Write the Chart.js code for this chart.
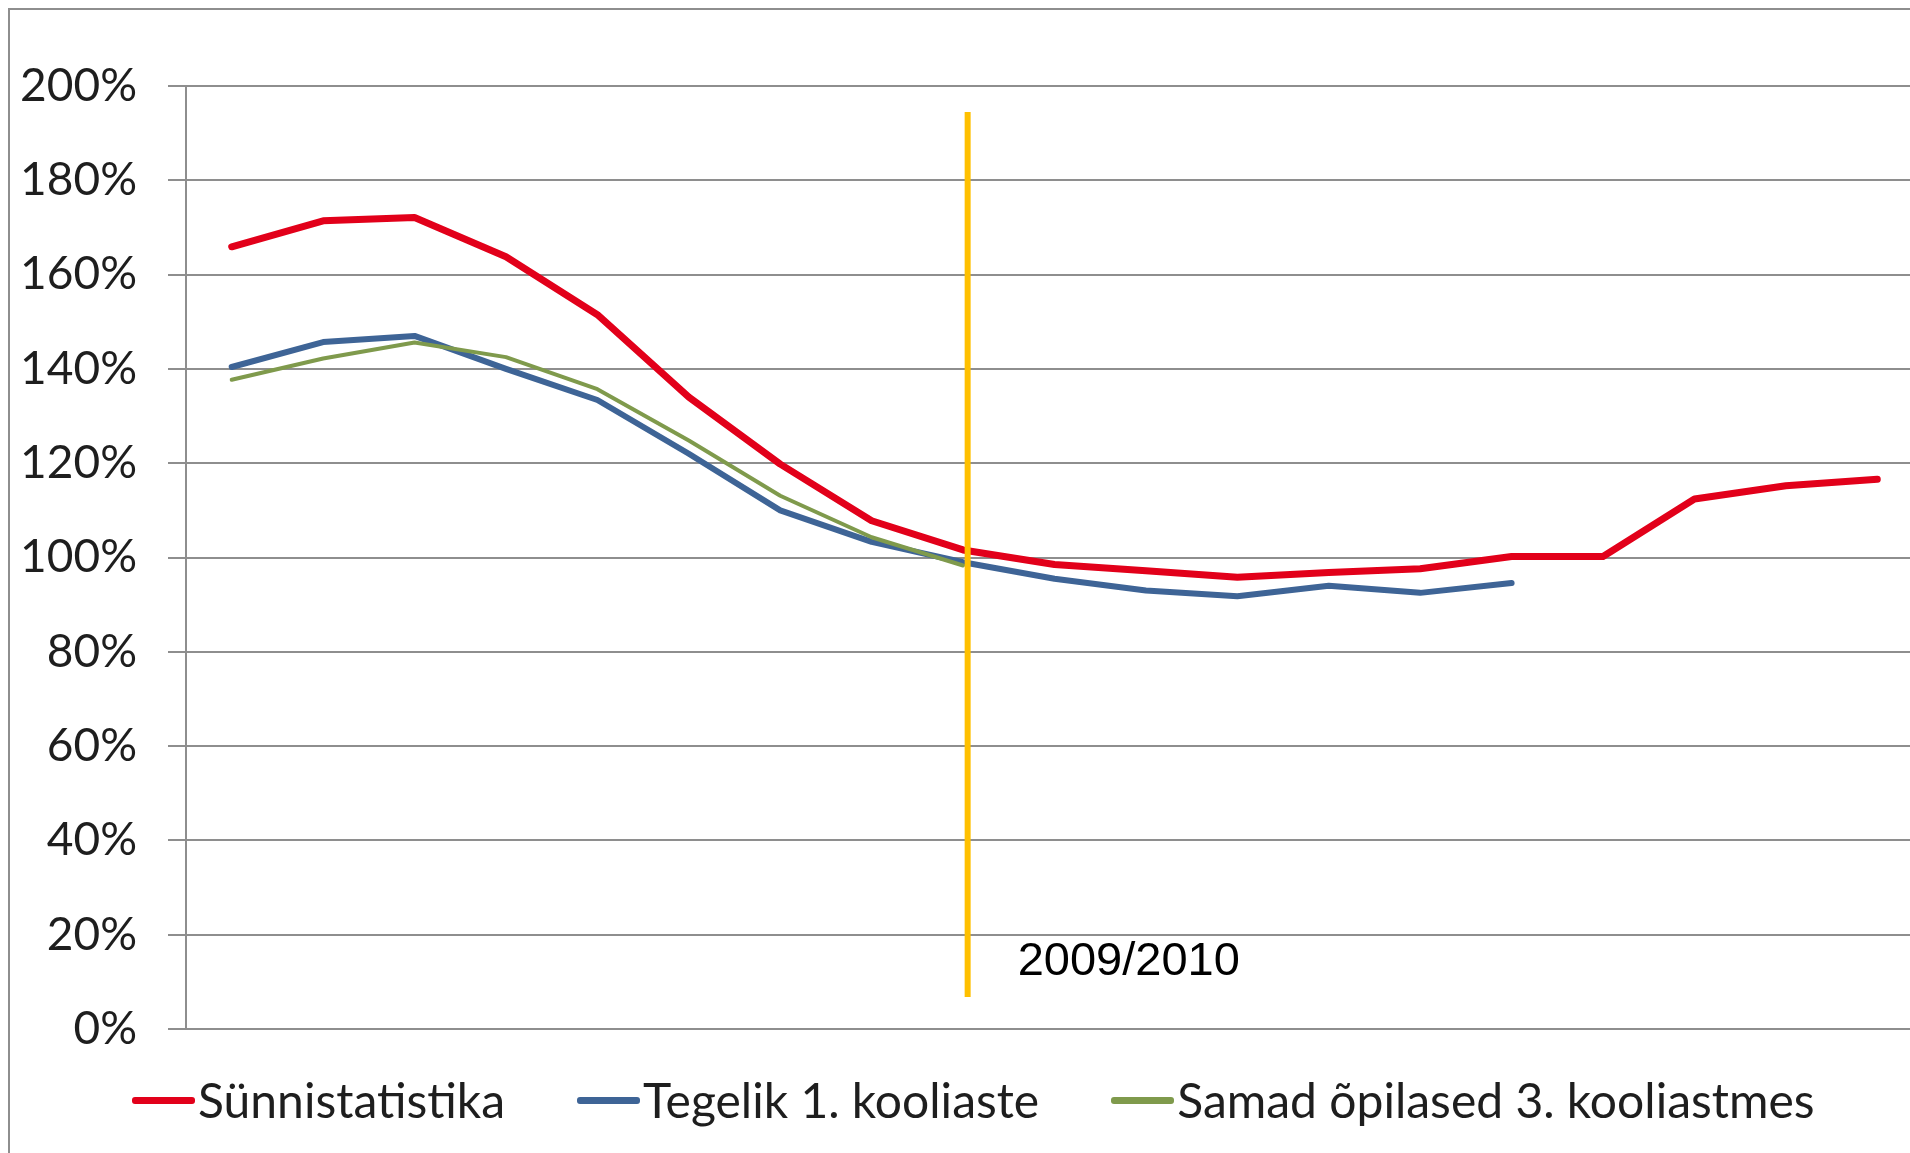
<!DOCTYPE html>
<html lang="et">
<head>
<meta charset="UTF-8">
<title>Sünnistatistika ja kooliastmed</title>
<script src="https://cdnjs.cloudflare.com/ajax/libs/Chart.js/4.4.1/chart.umd.min.js"></script>
<style>
  html, body { margin: 0; padding: 0; background: #fff; overflow: hidden; }
  /* chart frame; right and bottom edge fall outside the picture */
  #frame { position: absolute; left: 8px; top: 8px; width: 2000px; height: 1300px; border: 2px solid #8e8e8e; }
  #wrap { position: absolute; left: 0; top: 0; }
  #legend {
    position: absolute; left: 132px; top: 1076px; height: 48px;
    display: flex; align-items: center; gap: 72px;
    font-family: Lato, sans-serif; font-size: 48px; line-height: 48px; color: #1e1e1e;
    white-space: nowrap;
  }
  #legend .item { display: flex; align-items: center; }
  #legend .swatch { display: inline-block; width: 63px; height: 7px; border-radius: 3px; margin-right: 3px; }
</style>
</head>
<body>
<div id="frame"></div>
<div id="wrap"><canvas id="myChart" width="1923" height="1153"></canvas></div>
<div id="legend"></div>
<script>
// school years on the x axis (labels not shown in the picture)
const years = ['2001/2002', '2002/2003', '2003/2004', '2004/2005', '2005/2006', '2006/2007',
  '2007/2008', '2008/2009', '2009/2010', '2010/2011', '2011/2012', '2012/2013', '2013/2014',
  '2014/2015', '2015/2016', '2016/2017', '2017/2018', '2018/2019', '2019/2020'];

// values in %
const birthStats = [165.9, 171.4, 172.1, 163.8, 151.5, 134.0, 119.8, 107.8, 101.6, 98.5,
  97.2, 95.8, 96.8, 97.6, 100.2, 100.2, 112.4, 115.2, 116.6];
const firstStage = [140.4, 145.7, 147.0, 140.0, 133.4, 122.0, 110.0, 103.3, 99.0, 95.5,
  93.0, 91.8, 94.0, 92.5, 94.6, null, null, null, null];
const thirdStage = [137.7, 142.2, 145.6, 142.5, 135.7, 124.8, 113.1, 104.3, 98.3, null,
  null, null, null, null, null, null, null, null, null];

const seriesNames = ['Sünnistatistika', 'Tegelik 1. kooliaste', 'Samad õpilased 3. kooliastmes'];

const yTicks = [0, 20, 40, 60, 80, 100, 120, 140, 160, 180, 200];

// marker for the current school year
const markerYear = '2009/2010';
const markerRange = [6.8, 194.5];
const markerLabelAt = 11.5;

const markerPlugin = {
  id: 'yearMarker',
  afterDatasetsDraw(chart, args, opts) {
    const {ctx, scales: {x, y}} = chart;
    const px = x.getPixelForValue(years.indexOf(markerYear) + opts.shift);
    ctx.save();
    ctx.strokeStyle = opts.color;
    ctx.lineWidth = opts.width;
    ctx.beginPath();
    ctx.moveTo(px, y.getPixelForValue(markerRange[1]));
    ctx.lineTo(px, y.getPixelForValue(markerRange[0]));
    ctx.stroke();
    ctx.font = opts.font;
    ctx.fillStyle = opts.textColor;
    ctx.textAlign = 'left';
    ctx.textBaseline = 'alphabetic';
    ctx.fillText(markerYear, px + opts.textGap, y.getPixelForValue(markerLabelAt));
    ctx.restore();
  }
};

const gridColor = '#8e8e8e';

const ctx = document.getElementById('myChart').getContext('2d');
const myChart = new Chart(ctx, {
  type: 'line',
  data: {
    labels: years,
    datasets: [
      {label: seriesNames[0], data: birthStats, borderColor: '#e2001a', backgroundColor: '#e2001a',
        borderWidth: 7, order: 3},
      {label: seriesNames[1], data: firstStage, borderColor: '#3e6496', backgroundColor: '#3e6496',
        borderWidth: 6, order: 2},
      {label: seriesNames[2], data: thirdStage, borderColor: '#7f9a4c', backgroundColor: '#7f9a4c',
        borderWidth: 4, order: 1}
    ]
  },
  plugins: [markerPlugin],
  options: {
    responsive: false,
    animation: false,
    layout: {padding: {top: 86, left: 0, right: 0, bottom: 124}},
    elements: {
      point: {radius: 0, hoverRadius: 0},
      line: {tension: 0, fill: false, borderJoinStyle: 'round', borderCapStyle: 'round'}
    },
    scales: {
      x: {
        type: 'category',
        display: false,
        offset: true
      },
      y: {
        min: 0,
        max: 200,
        afterBuildTicks: (scale) => { scale.ticks = yTicks.map(v => ({value: v})); },
        afterFit: (scale) => { scale.width = 186; },
        border: {display: true, color: gridColor, width: 2},
        grid: {color: gridColor, lineWidth: 2, drawTicks: true, tickLength: 18, tickColor: gridColor},
        ticks: {
          padding: 31,
          color: '#1e1e1e',
          font: {family: 'Lato', size: 46},
          callback: (v) => v + '%'
        }
      }
    },
    plugins: {
      legend: {display: false},
      tooltip: {enabled: false},
      yearMarker: {
        shift: 0.05,
        color: '#ffc000',
        width: 6,
        textGap: 50,
        textColor: '#000',
        font: '47px "Liberation Sans"'
      }
    }
  }
});

// legend built from the chart's own datasets, in series order
const legendBox = document.getElementById('legend');
myChart.data.datasets.forEach((ds) => {
  const item = document.createElement('div');
  item.className = 'item';
  const swatch = document.createElement('span');
  swatch.className = 'swatch';
  swatch.style.background = ds.borderColor;
  const text = document.createElement('span');
  text.textContent = ds.label;
  item.appendChild(swatch);
  item.appendChild(text);
  legendBox.appendChild(item);
});
</script>
</body>
</html>
